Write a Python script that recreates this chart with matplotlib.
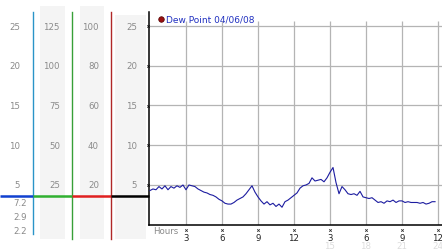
import numpy as np
import matplotlib.pyplot as plt

# dew point readings, every 15 min from 00:00
hours = np.arange(0, 24, 0.25)
dew = [4.3, 4.5, 4.4, 4.8, 4.5, 4.9, 4.4, 4.8, 4.6, 4.9, 4.7, 5.0,
       4.4, 5.0, 4.9, 4.8, 4.5, 4.3, 4.1, 4.0, 3.8, 3.7, 3.5, 3.2,
       3.0, 2.7, 2.6, 2.6, 2.8, 3.1, 3.3, 3.5, 3.9, 4.4, 4.9, 4.1,
       3.5, 3.0, 2.6, 2.9, 2.5, 2.7, 2.3, 2.6, 2.2, 2.9, 3.1, 3.4,
       3.7, 4.0, 4.6, 4.9, 5.0, 5.2, 5.9, 5.5, 5.6, 5.7, 5.4, 5.9,
       6.6, 7.2, 5.3, 3.9, 4.8, 4.4, 3.9, 3.8, 3.9, 3.7, 4.2, 3.5,
       3.4, 3.3, 3.4, 3.1, 2.8, 2.9, 2.7, 3.0, 2.9, 3.1, 2.8, 3.0,
       3.0, 2.8, 2.9, 2.8, 2.8, 2.8, 2.7, 2.8, 2.6, 2.7, 2.9, 2.9]

y_ticks = [25, 20, 15, 10, 5]
col2 = [125, 100, 75, 50, 25]
col3 = [100, 80, 60, 40, 20]
stats = ['7.2', '2.9', '2.2']
x_ticks = [3, 6, 9, 12, 15, 18, 21, 24]
x_labels = ['3', '6', '9', '12', '3', '6', '9', '12']
x_labels2 = ['15', '18', '21', '24']

W, H = 442, 253
fig = plt.figure(figsize=(W / 100, H / 100), dpi=100)

# pixel-space overlay for the left scale panel
deco = fig.add_axes([0, 0, 1, 1])
deco.set_xlim(0, W)
deco.set_ylim(H, 0)
deco.axis('off')

ax = fig.add_axes([149 / W, (H - 225.75) / H, (W - 149) / W, (225.75 - 13) / H])
ax.set_xlim(-0.08, 24.33)
ax.set_ylim(0, 26.75)
ax.patch.set_alpha(0)
for s in ['top', 'right']:
    ax.spines[s].set_visible(False)
ax.spines['left'].set_linewidth(1.1)
ax.spines['bottom'].set_linewidth(1.1)
ax.set_xticks([])
ax.set_yticks([])

# grid
for v in y_ticks:
    ax.axhline(v, color='#b4b4b4', lw=0.9, zorder=1)
ax.vlines(x_ticks, 0, 25.6, color='#b4b4b4', lw=0.9, zorder=1)

ax.plot(hours, dew, color='#1c1ca0', lw=0.8, zorder=3)

def ypx(v):
    return 225.75 - 7.95 * v

# background bands
for x0, x1, y0 in [(40, 65, 7), (80, 104, 7), (115, 146, 16)]:
    deco.fill_between([x0, x1], y0, 240, color='#f4f4f4', lw=0)

fs = 6.2
gray = '#8a8a8a'
for v, a, b in zip(y_ticks, col2, col3):
    y = ypx(v)
    deco.text(20, y, str(v), ha='right', va='center', fontsize=fs, color=gray)
    deco.text(60, y, str(a), ha='right', va='center', fontsize=fs, color=gray)
    deco.text(99, y, str(b), ha='right', va='center', fontsize=fs, color=gray)
    deco.text(137, y, str(v), ha='right', va='center', fontsize=fs, color=gray)
deco.plot([147.5] * len(y_ticks), [ypx(v) for v in y_ticks], 'x', color='#333333', ms=1.8, mew=0.6)

for i, s in enumerate(stats):
    deco.text(27, 204 + 14 * i, s, ha='right', va='center', fontsize=fs, color=gray)

# colored scale lines
deco.plot([33, 33], [13, 235], color='#2a94c8', lw=1.0)
deco.plot([72, 72], [13, 240], color='#38a038', lw=1.0)
deco.plot([111, 111], [13, 240], color='#b02828', lw=1.0)
deco.plot([0, 33], [196.5, 196.5], color='#1040d0', lw=1.8, solid_capstyle='butt')
deco.plot([33, 72], [196.5, 196.5], color='#30b030', lw=1.8, solid_capstyle='butt')
deco.plot([72, 111], [196.5, 196.5], color='#e02020', lw=1.8, solid_capstyle='butt')
deco.plot([111, 149], [196.5, 196.5], color='black', lw=1.8, solid_capstyle='butt')

# legend
deco.plot(161, 20, 'o', color='#9a1010', ms=4, mec='#500000', mew=0.5)
deco.text(166, 20, 'Dew Point 04/06/08', ha='left', va='center', fontsize=6.5, color='#2030c0')

# x axis labels
deco.text(153, 231.5, 'Hours', ha='left', va='center', fontsize=fs, color=gray)
for t, lab in zip(x_ticks, x_labels):
    x = 150 + 12 * t
    deco.plot(x, 230.5, 'x', color='#333333', ms=1.8, mew=0.6)
    deco.text(x, 238.5, lab, ha='center', va='center', fontsize=fs, color='#222222')
for t, lab in zip(x_ticks[4:], x_labels2):
    deco.text(150 + 12 * t, 247, lab, ha='center', va='center', fontsize=fs, color='#dcdcdc')

fig.savefig('out.png', dpi=100)
